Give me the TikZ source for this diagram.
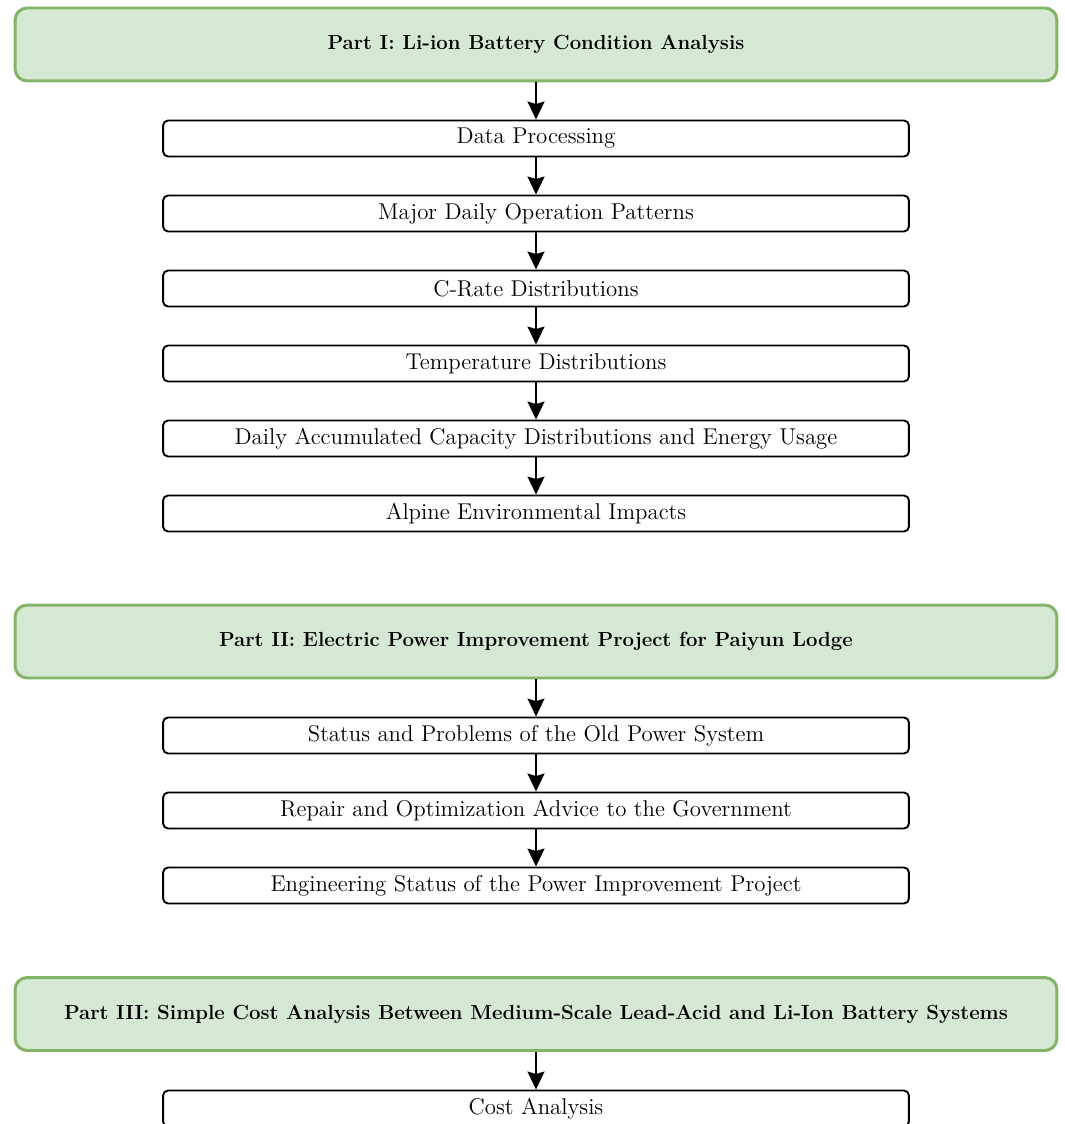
\documentclass[tikz,border=0pt]{standalone}
\usetikzlibrary{arrows.meta}

\definecolor{partfill}{HTML}{D5E8D4}
\definecolor{partline}{HTML}{82B366}

\tikzset{
    part/.style={draw=partline, fill=partfill, line width=1.7pt,
        rounded corners=0.24cm, minimum width=20.84cm, minimum height=1.46cm,
        font=\fontsize{11.6}{14}\selectfont\bfseries},
    item/.style={draw, line width=1.1pt, rounded corners=0.1cm,
        minimum width=14.92cm, minimum height=0.72cm,
        font=\fontsize{13}{15}\selectfont},
    flow/.style={line width=1.1pt,
        -{Stealth[length=0.36cm, width=0.34cm, inset=0.05cm]}}
}

\begin{document}
\begin{tikzpicture}[x=0.02cm, y=-0.02cm]
    \useasboundingbox (0, 0) rectangle (1064, 1124);
    \clip (0, 0) rectangle (1064, 1124);

    % part I
    \node[part] (partone) at (536, 44.5) {Part I: Li-ion Battery Condition Analysis};
    \node[item] (data) at (536, 138.5) {Data Processing};
    \node[item] (pattern) at (536, 213.5) {Major Daily Operation Patterns};
    \node[item] (crate) at (536, 288.5) {C-Rate Distributions};
    \node[item] (temp) at (536, 363.5) {Temperature Distributions};
    \node[item] (capacity) at (536, 438.5) {Daily Accumulated Capacity Distributions and Energy Usage};
    \node[item] (alpine) at (536, 513.5) {Alpine Environmental Impacts};

    % part II
    \node[part] (parttwo) at (536, 641.5) {Part II: Electric Power Improvement Project for Paiyun Lodge};
    \node[item] (status) at (536, 735.5) {Status and Problems of the Old Power System};
    \node[item] (repair) at (536, 810.5) {Repair and Optimization Advice to the Government};
    \node[item] (engineer) at (536, 885.5) {Engineering Status of the Power Improvement Project};

    % part III
    \node[part] (partthree) at (536, 1014) {Part III: Simple Cost Analysis Between Medium-Scale Lead-Acid and Li-Ion Battery Systems};
    \node[item] (cost) at (536, 1108.5) {Cost Analysis};

    \draw[flow] (partone.south) -- (data.north);
    \draw[flow] (data.south) -- (pattern.north);
    \draw[flow] (pattern.south) -- (crate.north);
    \draw[flow] (crate.south) -- (temp.north);
    \draw[flow] (temp.south) -- (capacity.north);
    \draw[flow] (capacity.south) -- (alpine.north);
    \draw[flow] (parttwo.south) -- (status.north);
    \draw[flow] (status.south) -- (repair.north);
    \draw[flow] (repair.south) -- (engineer.north);
    \draw[flow] (partthree.south) -- (cost.north);
\end{tikzpicture}
\end{document}
